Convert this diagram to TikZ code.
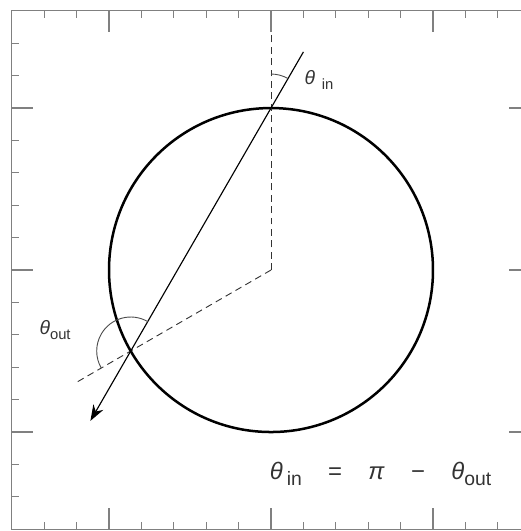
\documentclass[tikz,border=0pt]{standalone}
\usepackage{fontspec}
\setmainfont{Liberation Sans}
\usetikzlibrary{arrows.meta}
\newcommand{\lowsub}[1]{\raisebox{-0.45ex}{\fontsize{6.5}{7}\selectfont #1}}
\begin{document}
\begin{tikzpicture}[x=2.5cm,y=2.5cm,
	frame/.style={ black!50, line width=0.5pt },
	rim/.style={ black, line width=1.1pt },
	normal/.style={ black!80, dashed, line width=0.4pt, dash pattern=on 3pt off 2pt },
	ray/.style={ black, line width=0.5pt },
	angle/.style={ black!70, line width=0.4pt },
	label/.style={ text=black!80, inner sep=0pt, font=\fontsize{8.5}{10}\selectfont }
]

\clip (-1.673,-1.611) rectangle (1.543,1.667);
\draw[frame] (-1.6,-1.6) rectangle (1.6,1.6);
\foreach \t in {-1.4,-1.2,-0.8,-0.6,-0.4,-0.2,0.2,0.4,0.6,0.8,1.2,1.4} {
	\draw[frame] (\t,1.6) -- ++(0,-0.045);
	\draw[frame] (\t,-1.6) -- ++(0,0.045);
	\draw[frame] (-1.6,\t) -- ++(0.045,0);
	\draw[frame] (1.6,\t) -- ++(-0.045,0);
}
\foreach \t in {-1,0,1} {
	\draw[frame] (\t,1.6) -- ++(0,-0.13);
	\draw[frame] (\t,-1.6) -- ++(0,0.13);
	\draw[frame] (-1.6,\t) -- ++(0.13,0);
	\draw[frame] (1.6,\t) -- ++(-0.13,0);
}

\coordinate (O) at (0,0);
\coordinate (hit) at (90:1);
\coordinate (exit) at (210:1);
\coordinate (ntop) at (0,1.45);
\coordinate (nout) at (210:1.4);
\coordinate (src) at ([shift={(60:0.4)}]hit);
\coordinate (tip) at ([shift={(240:2.23)}]hit);

\draw[rim] (O) circle (1);
\draw[normal] (O) -- (ntop);
\draw[normal] (O) -- (nout);
\draw[ray, -{Stealth[length=7pt, width=5pt]}] (src) -- (tip);
\draw[angle] (hit) ++(90:0.21) arc (90:60:0.21);
\draw[angle] (exit) ++(60:0.21) arc (60:210:0.21);

\node[label] at (0.296,1.173) (thin) {\textit{θ}\hspace{0.35em}\lowsub{in}};
\node[label] at (-1.333,-0.37) (thout) {\textit{θ}\lowsub{out}};
\node[label, font=\fontsize{10.5}{12}\selectfont] at (0.676,-1.259) (law)
	{\textit{θ}\,\lowsub{\fontsize{8.5}{9}\selectfont in}\hspace{1.1em}=\hspace{1.1em}\textit{π}\hspace{1.1em}−\hspace{1.1em}\textit{θ}\lowsub{\fontsize{8.5}{9}\selectfont out}};

\end{tikzpicture}
\end{document}
